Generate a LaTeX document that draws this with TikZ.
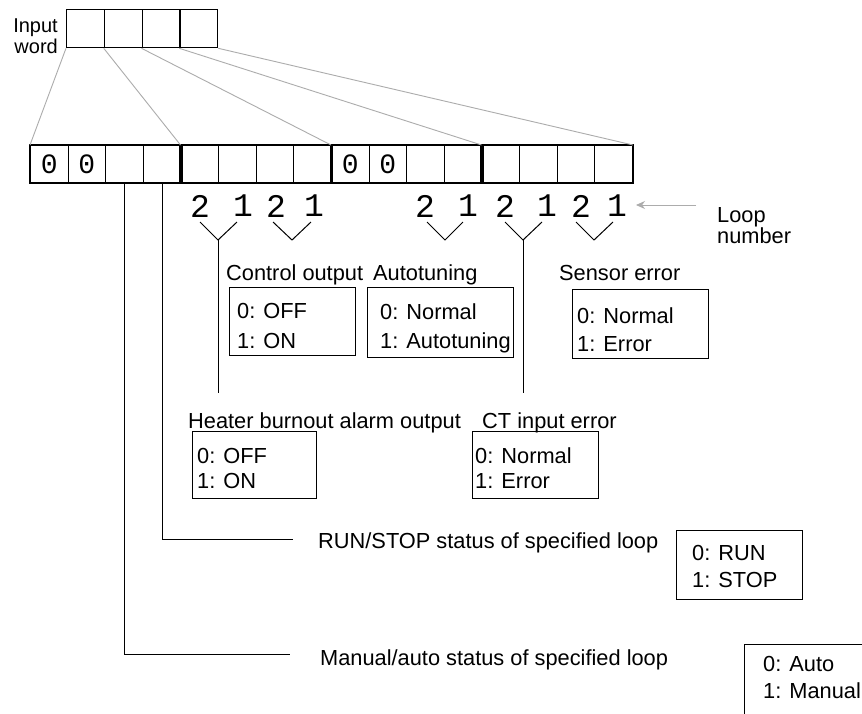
\documentclass[tikz,border=0pt]{standalone}
\usepackage{fontspec}
\setmainfont{Liberation Sans}
\newfontfamily\monofnt{Liberation Mono}
\usetikzlibrary{arrows.meta}
\begin{document}
\begin{tikzpicture}[x=1pt,y=-1pt,
  lbl/.style={anchor=base west, inner sep=0pt, font=\fontsize{21.8}{26}\selectfont},
  box/.style={draw, line width=1.3pt, anchor=north west, inner sep=0pt},
  cellst/.style={draw, line width=0.9pt, anchor=north west, minimum width=37.625pt, minimum height=37pt, inner sep=0pt, font=\monofnt\fontsize{28}{28}\selectfont},
  gline/.style={gray!65, line width=0.9pt},
  conn/.style={black, line width=1pt},
  thickgrp/.style={line width=2.4pt},
  digit/.style={font=\monofnt\fontsize{33}{33}\selectfont, inner sep=0pt},
]
\useasboundingbox (0,0) rectangle (862,713);
\fill[white] (0,0) rectangle (862,713);

% input word
\node[anchor=base east, inner sep=0pt, font=\fontsize{20}{21}\selectfont] (inlbl1) at (58,32) {Input};
\node[anchor=base east, inner sep=0pt, font=\fontsize{20}{21}\selectfont] (inlbl2) at (58,53) {word};
\foreach \i in {1,...,4}
  \node[cellst, minimum width=37.75pt, minimum height=38pt, line width=1.3pt] (iw\i) at ({66+(\i-1)*37.75},9) {};

% bit row
\foreach \i/\t in {1/0,2/0,3/,4/,5/,6/,7/,8/,9/0,10/0,11/,12/,13/,14/,15/,16/}
  \node[cellst] (c\i) at ({30+(\i-1)*37.625},145) {\t};
\draw[thickgrp] (c1.north west) rectangle (c4.south east);
\draw[thickgrp] (c5.north west) rectangle (c8.south east);
\draw[thickgrp] (c9.north west) rectangle (c12.south east);
\draw[thickgrp] (c13.north west) rectangle (c16.south east);

% fan lines
\draw[gline] (iw1.south west) -- (c1.north west);
\draw[gline] (iw2.south west) -- (c5.north west);
\draw[gline] (iw3.south west) -- (c9.north west);
\draw[gline] (iw4.south west) -- (c13.north west);
\draw[gline] (iw4.south east) -- (c16.north east);

% loop digits
\foreach \n/\x/\t in {d1/200/2,d2/243/1,d3/276/2,d4/314/1,d5/425/2,d6/468/1,d7/505/2,d8/547/1,d9/581/2,d10/617/1}
  \node[digit] (\n) at (\x,206) {\t};

% V marks
\coordinate (vA) at (218,240);
\coordinate (vB) at (292,240);
\coordinate (vC) at (445,240);
\coordinate (vD) at (523,240);
\coordinate (vE) at (594,240);
\draw[conn] (200,222) -- (vA) -- (237,222);
\draw[conn] (273,222) -- (vB) -- (311,222);
\draw[conn] (427,222) -- (vC) -- (463,222);
\draw[conn] (505,222) -- (vD) -- (542,222);
\draw[conn] (576,222) -- (vE) -- (613,222);
\coordinate (sA) at (218,393);
\coordinate (sD) at (523,393);
\draw[conn] (vA) -- (sA);
\draw[conn] (vD) -- (sD);

% loop number
\coordinate (lpa) at (696,205);
\coordinate (lpb) at (636,205);
\draw[gline, -{Stealth[length=9pt,width=8pt]}] (lpa) -- (lpb);
\node[lbl] (loop1) at (717,222) {Loop};
\node[lbl] (loop2) at (717,243) {number};

% upper labels and boxes
\node[lbl] (lctrl) at (226,280) {Control output};
\node[box, minimum width=126pt, minimum height=68pt] (ctrlbox) at (229,287) {};
\node[lbl] (t1) at (237,318) {0: OFF};
\node[lbl] (t2) at (237,348) {1: ON};

\node[lbl] (lauto) at (373,280) {Autotuning};
\node[box, minimum width=146pt, minimum height=70pt] (atbox) at (367,287) {};
\node[lbl] (t3) at (380,319) {0: Normal};
\node[lbl] (t4) at (380,348) {1: Autotuning};

\node[lbl] (lsen) at (559,280) {Sensor error};
\node[box, minimum width=136pt, minimum height=69pt] (senbox) at (572,289) {};
\node[lbl] (t5) at (577,323) {0: Normal};
\node[lbl] (t6) at (577,351) {1: Error};

% middle labels and boxes
\node[lbl] (lheat) at (188,428) {Heater burnout alarm output};
\node[box, minimum width=124pt, minimum height=67pt] (heatbox) at (192,431) {};
\node[lbl] (t7) at (197,463) {0: OFF};
\node[lbl] (t8) at (197,488) {1: ON};

\node[lbl] (lct) at (482,428) {CT input error};
\node[box, minimum width=126pt, minimum height=67pt] (ctbox) at (472,431) {};
\node[lbl] (t9) at (475,463) {0: Normal};
\node[lbl] (t10) at (475,488) {1: Error};

% run/stop
\coordinate (rsend) at (293,539);
\draw[conn] (c4.south) |- (rsend);
\node[lbl] (lrun) at (318,548) {RUN/STOP status of specified loop};
\node[box, minimum width=126pt, minimum height=69pt] (runbox) at (676,530) {};
\node[lbl] (t11) at (692,560) {0: RUN};
\node[lbl] (t12) at (692,587) {1: STOP};

% manual/auto
\coordinate (maend) at (290,654);
\draw[conn] (c3.south) |- (maend);
\node[lbl] (lman) at (320,665) {Manual/auto status of specified loop};
\begin{scope}
\clip (0,0) rectangle (862,713);
\node[box, minimum width=140pt, minimum height=90pt] (manbox) at (744,644) {};
\end{scope}
\node[lbl] (t13) at (763,671) {0: Auto};
\node[lbl] (t14) at (763,698) {1: Manual};
\end{tikzpicture}
\end{document}
